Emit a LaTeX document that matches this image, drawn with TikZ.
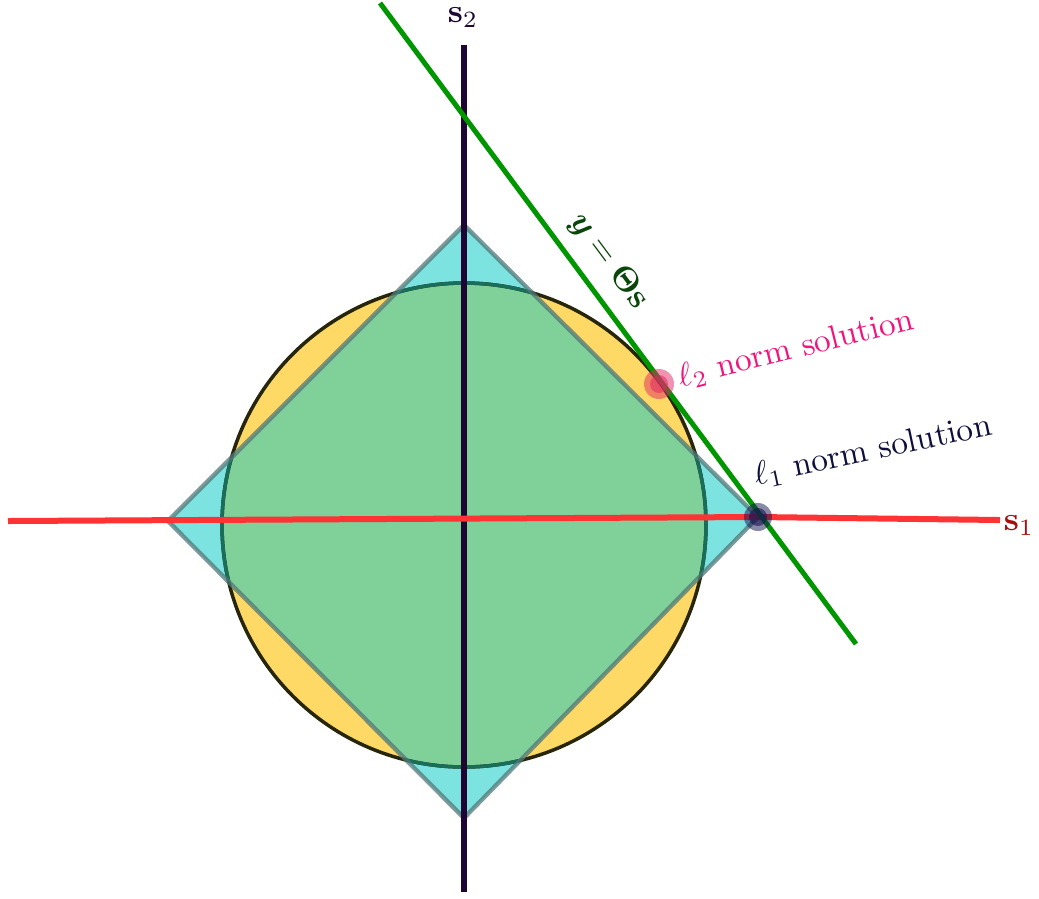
\documentclass[tikz,border=0pt]{standalone}
\usepackage{bm}
\definecolor{cyanA}{RGB}{125,227,224}
\definecolor{greenA}{RGB}{128,208,154}
\definecolor{yellowA}{RGB}{255,217,102}
\definecolor{circEdge}{RGB}{40,38,10}
\definecolor{circEdgeIn}{RGB}{25,110,90}
\definecolor{diaEdge}{RGB}{80,120,120}
\definecolor{axisTwo}{RGB}{30,5,52}
\definecolor{axisOne}{RGB}{255,51,51}
\definecolor{lineG}{RGB}{0,150,0}
\definecolor{labG}{RGB}{10,70,10}
\definecolor{labPink}{RGB}{240,20,125}
\definecolor{ptPink}{RGB}{225,40,100}
\definecolor{labNavy}{RGB}{15,15,60}
\definecolor{ptNavy}{RGB}{20,20,80}
\definecolor{labRed}{RGB}{165,14,14}
\tikzset{
  axisline/.style={line width=1.8pt},
  lbl/.style={inner sep=1pt},
}
\begin{document}
\begin{tikzpicture}[x=0.3pt,y=-0.3pt]
\useasboundingbox (0,0) rectangle (1039,898);
% key points
\coordinate (C) at (464,525);
\coordinate (T) at (464,225);
\coordinate (R) at (758,517);
\coordinate (B) at (464,818);
\coordinate (L) at (168,521);
\coordinate (V1) at (464,45);
\coordinate (V2) at (464,892);
\coordinate (H1) at (8,521);
\coordinate (H2) at (1000,520);
\coordinate (G1) at (380,3);
\coordinate (G2) at (856,644);
\coordinate (P2) at (659,384);
% regions
\fill[cyanA] (T)--(R)--(B)--(L)--cycle;
\fill[yellowA] (C) circle[radius=242];
\begin{scope}
  \clip (T)--(R)--(B)--(L)--cycle;
  \fill[greenA] (C) circle[radius=242];
\end{scope}
\draw[circEdge, line width=1.05pt] (C) circle[radius=242];
\begin{scope}
  \clip (T)--(R)--(B)--(L)--cycle;
  \draw[circEdgeIn, line width=1.05pt] (C) circle[radius=242];
\end{scope}
\draw[diaEdge, draw opacity=0.75, line width=1.3pt, line join=miter] (T)--(R)--(B)--(L)--cycle;
% axes
\draw[axisline, axisTwo] (V1) -- (V2);
\draw[axisline, axisOne] (H1) -- (R) -- (H2);
\draw[lineG, line width=1.5pt] (G1) -- (G2);
% solution points
\fill[ptNavy, opacity=0.5] (R) circle[radius=14];
\fill[ptNavy, opacity=0.6] (R) circle[radius=9];
\fill[ptPink, opacity=0.5] (P2) circle[radius=15];
\fill[ptPink, opacity=0.55] (P2) circle[radius=9];
% labels
\node[lbl, text=axisTwo] (s2lab) at (463,18) {$\mathbf{s}_2$};
\node[lbl, text=labRed] (s1lab) at (1019,526) {$\mathbf{s}_1$};
\node[lbl, text=labG, rotate=-53.4] (eqlab) at (609,261) {$\bm{y}=\bm{\Theta}\mathbf{s}$};
\node[lbl, text=labPink, rotate=14] (l2lab) at (796,349) {$\ell_2$ norm solution};
\node[lbl, text=labNavy, rotate=12] (l1lab) at (873,451) {$\ell_1$ norm solution};
\end{tikzpicture}
\end{document}
